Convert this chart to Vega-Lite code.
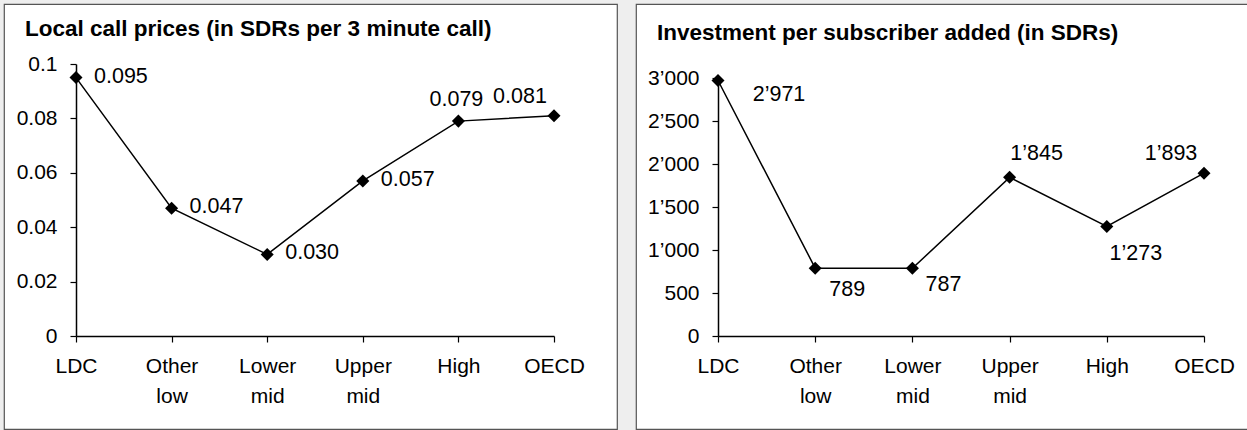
{
  "$schema": "https://vega.github.io/schema/vega-lite/v6.json",
  "background": "#eeeeee",
  "padding": {"left": 3, "top": 3, "right": 0, "bottom": 0},
  "spacing": 19,
  "bounds": "flush",
  "datasets": {
    "prices": [
      {"group": "LDC", "price": 0.095},
      {"group": "Other low", "price": 0.047},
      {"group": "Lower mid", "price": 0.030},
      {"group": "Upper mid", "price": 0.057},
      {"group": "High", "price": 0.079},
      {"group": "OECD", "price": 0.081}
    ],
    "invest": [
      {"group": "LDC", "investment": 2971},
      {"group": "Other low", "investment": 789},
      {"group": "Lower mid", "investment": 787},
      {"group": "Upper mid", "investment": 1845},
      {"group": "High", "investment": 1273},
      {"group": "OECD", "investment": 1893}
    ],
    "frame": [{}]
  },
  "hconcat": [
    {
      "width": 613,
      "height": 425,
      "title": {"text": "Local call prices (in SDRs per 3 minute call)", "anchor": "start", "frame": "group", "offset": 0, "dx": 21, "dy": 54, "baseline": "alphabetic", "fontSize": 22.5, "fontWeight": "bold", "font": "Liberation Sans", "color": "black"},
      "data": {"name": "prices"},
      "encoding": {
        "x": {"field": "group", "type": "nominal", "sort": null,
          "scale": {"type": "point", "domain": ["LDC", "Other low", "Lower mid", "Upper mid", "High", "OECD"], "range": [72, 550], "padding": 0},
          "axis": {"title": null, "offset": -93, "labelAngle": 0, "labelExpr": "split(datum.label, ' ')", "labelLineHeight": 30, "labelPadding": 13}},
        "y": {"field": "price", "type": "quantitative",
          "scale": {"domain": [0, 0.1], "range": [332, 60], "nice": false},
          "axis": {"title": null, "offset": -72, "values": [0, 0.02, 0.04, 0.06, 0.08, 0.1], "format": "~g", "labelPadding": 13}}
      },
      "layer": [
        {"data": {"name": "frame"}, "mark": {"type": "rule", "color": "#888888", "strokeWidth": 1.5},
          "encoding": {"x": {"datum": "LDC"}, "x2": {"datum": "OECD"}, "y": {"datum": 0.1}}},
        {"data": {"name": "frame"}, "mark": {"type": "rule", "color": "#888888", "strokeWidth": 1.5},
          "encoding": {"x": {"datum": "OECD"}, "y": {"datum": 0}, "y2": {"datum": 0.1}}},
        {"mark": {"type": "line", "color": "black", "strokeWidth": 1.5}},
        {"mark": {"type": "point", "shape": "diamond", "filled": true, "color": "black", "opacity": 1, "size": 170}},
        {"transform": [{"filter": {"field": "group", "oneOf": ["LDC", "Other low", "Lower mid", "Upper mid"]}}],
          "mark": {"type": "text", "align": "left", "baseline": "middle", "dx": 18, "dy": -1, "fontSize": 21.5, "color": "black"},
          "encoding": {"text": {"field": "price", "type": "quantitative", "format": ".3f"}}},
        {"transform": [{"filter": {"field": "group", "equal": "High"}}],
          "mark": {"type": "text", "align": "center", "baseline": "middle", "dx": -2, "dy": -21, "fontSize": 21.5, "color": "black"},
          "encoding": {"text": {"field": "price", "type": "quantitative", "format": ".3f"}}},
        {"transform": [{"filter": {"field": "group", "equal": "OECD"}}],
          "mark": {"type": "text", "align": "center", "baseline": "middle", "dx": -34, "dy": -19, "fontSize": 21.5, "color": "black"},
          "encoding": {"text": {"field": "price", "type": "quantitative", "format": ".3f"}}}
      ]
    },
    {
      "width": 613,
      "height": 425,
      "title": {"text": "Investment per subscriber added (in SDRs)", "anchor": "start", "frame": "group", "offset": 0, "dx": 21, "dy": 58, "baseline": "alphabetic", "fontSize": 22.5, "fontWeight": "bold", "font": "Liberation Sans", "color": "black"},
      "data": {"name": "invest"},
      "encoding": {
        "x": {"field": "group", "type": "nominal", "sort": null,
          "scale": {"type": "point", "domain": ["LDC", "Other low", "Lower mid", "Upper mid", "High", "OECD"], "range": [82, 568], "padding": 0},
          "axis": {"title": null, "offset": -93, "labelAngle": 0, "labelExpr": "split(datum.label, ' ')", "labelLineHeight": 30, "labelPadding": 13}},
        "y": {"field": "investment", "type": "quantitative",
          "scale": {"domain": [0, 3000], "range": [332, 74], "nice": false},
          "axis": {"title": null, "offset": -82, "values": [0, 500, 1000, 1500, 2000, 2500, 3000], "format": ",d", "labelPadding": 13}}
      },
      "layer": [
        {"data": {"name": "frame"}, "mark": {"type": "rule", "color": "#888888", "strokeWidth": 1.5},
          "encoding": {"x": {"datum": "LDC"}, "x2": {"datum": "OECD"}, "y": {"datum": 3000}}},
        {"data": {"name": "frame"}, "mark": {"type": "rule", "color": "#888888", "strokeWidth": 1.5},
          "encoding": {"x": {"datum": "OECD"}, "y": {"datum": 0}, "y2": {"datum": 3000}}},
        {"mark": {"type": "line", "color": "black", "strokeWidth": 1.5}},
        {"mark": {"type": "point", "shape": "diamond", "filled": true, "color": "black", "opacity": 1, "size": 170}},
        {"transform": [{"filter": {"field": "group", "equal": "LDC"}}],
          "mark": {"type": "text", "align": "center", "baseline": "middle", "dx": 61, "dy": 15, "fontSize": 21.5, "color": "black"},
          "encoding": {"text": {"field": "investment", "type": "quantitative", "format": ","}}},
        {"transform": [{"filter": {"field": "group", "equal": "Other low"}}],
          "mark": {"type": "text", "align": "center", "baseline": "middle", "dx": 32, "dy": 22, "fontSize": 21.5, "color": "black"},
          "encoding": {"text": {"field": "investment", "type": "quantitative", "format": ","}}},
        {"transform": [{"filter": {"field": "group", "equal": "Lower mid"}}],
          "mark": {"type": "text", "align": "center", "baseline": "middle", "dx": 31, "dy": 17, "fontSize": 21.5, "color": "black"},
          "encoding": {"text": {"field": "investment", "type": "quantitative", "format": ","}}},
        {"transform": [{"filter": {"field": "group", "equal": "Upper mid"}}],
          "mark": {"type": "text", "align": "center", "baseline": "middle", "dx": 27, "dy": -23, "fontSize": 21.5, "color": "black"},
          "encoding": {"text": {"field": "investment", "type": "quantitative", "format": ","}}},
        {"transform": [{"filter": {"field": "group", "equal": "High"}}],
          "mark": {"type": "text", "align": "center", "baseline": "middle", "dx": 29, "dy": 27, "fontSize": 21.5, "color": "black"},
          "encoding": {"text": {"field": "investment", "type": "quantitative", "format": ","}}},
        {"transform": [{"filter": {"field": "group", "equal": "OECD"}}],
          "mark": {"type": "text", "align": "center", "baseline": "middle", "dx": -33, "dy": -19, "fontSize": 21.5, "color": "black"},
          "encoding": {"text": {"field": "investment", "type": "quantitative", "format": ","}}}
      ]
    }
  ],
  "config": {
    "font": "Liberation Sans",
    "locale": {"number": {"decimal": ".", "thousands": "’", "grouping": [3], "currency": ["", ""]}},
    "view": {"stroke": "#555555", "strokeWidth": 1.2, "fill": "white"},
    "axis": {
      "grid": false,
      "domainColor": "black",
      "domainWidth": 1.5,
      "tickColor": "black",
      "tickWidth": 1.2,
      "tickSize": 6,
      "labelFont": "Liberation Sans",
      "labelFontSize": 21,
      "labelColor": "black"
    }
  }
}
